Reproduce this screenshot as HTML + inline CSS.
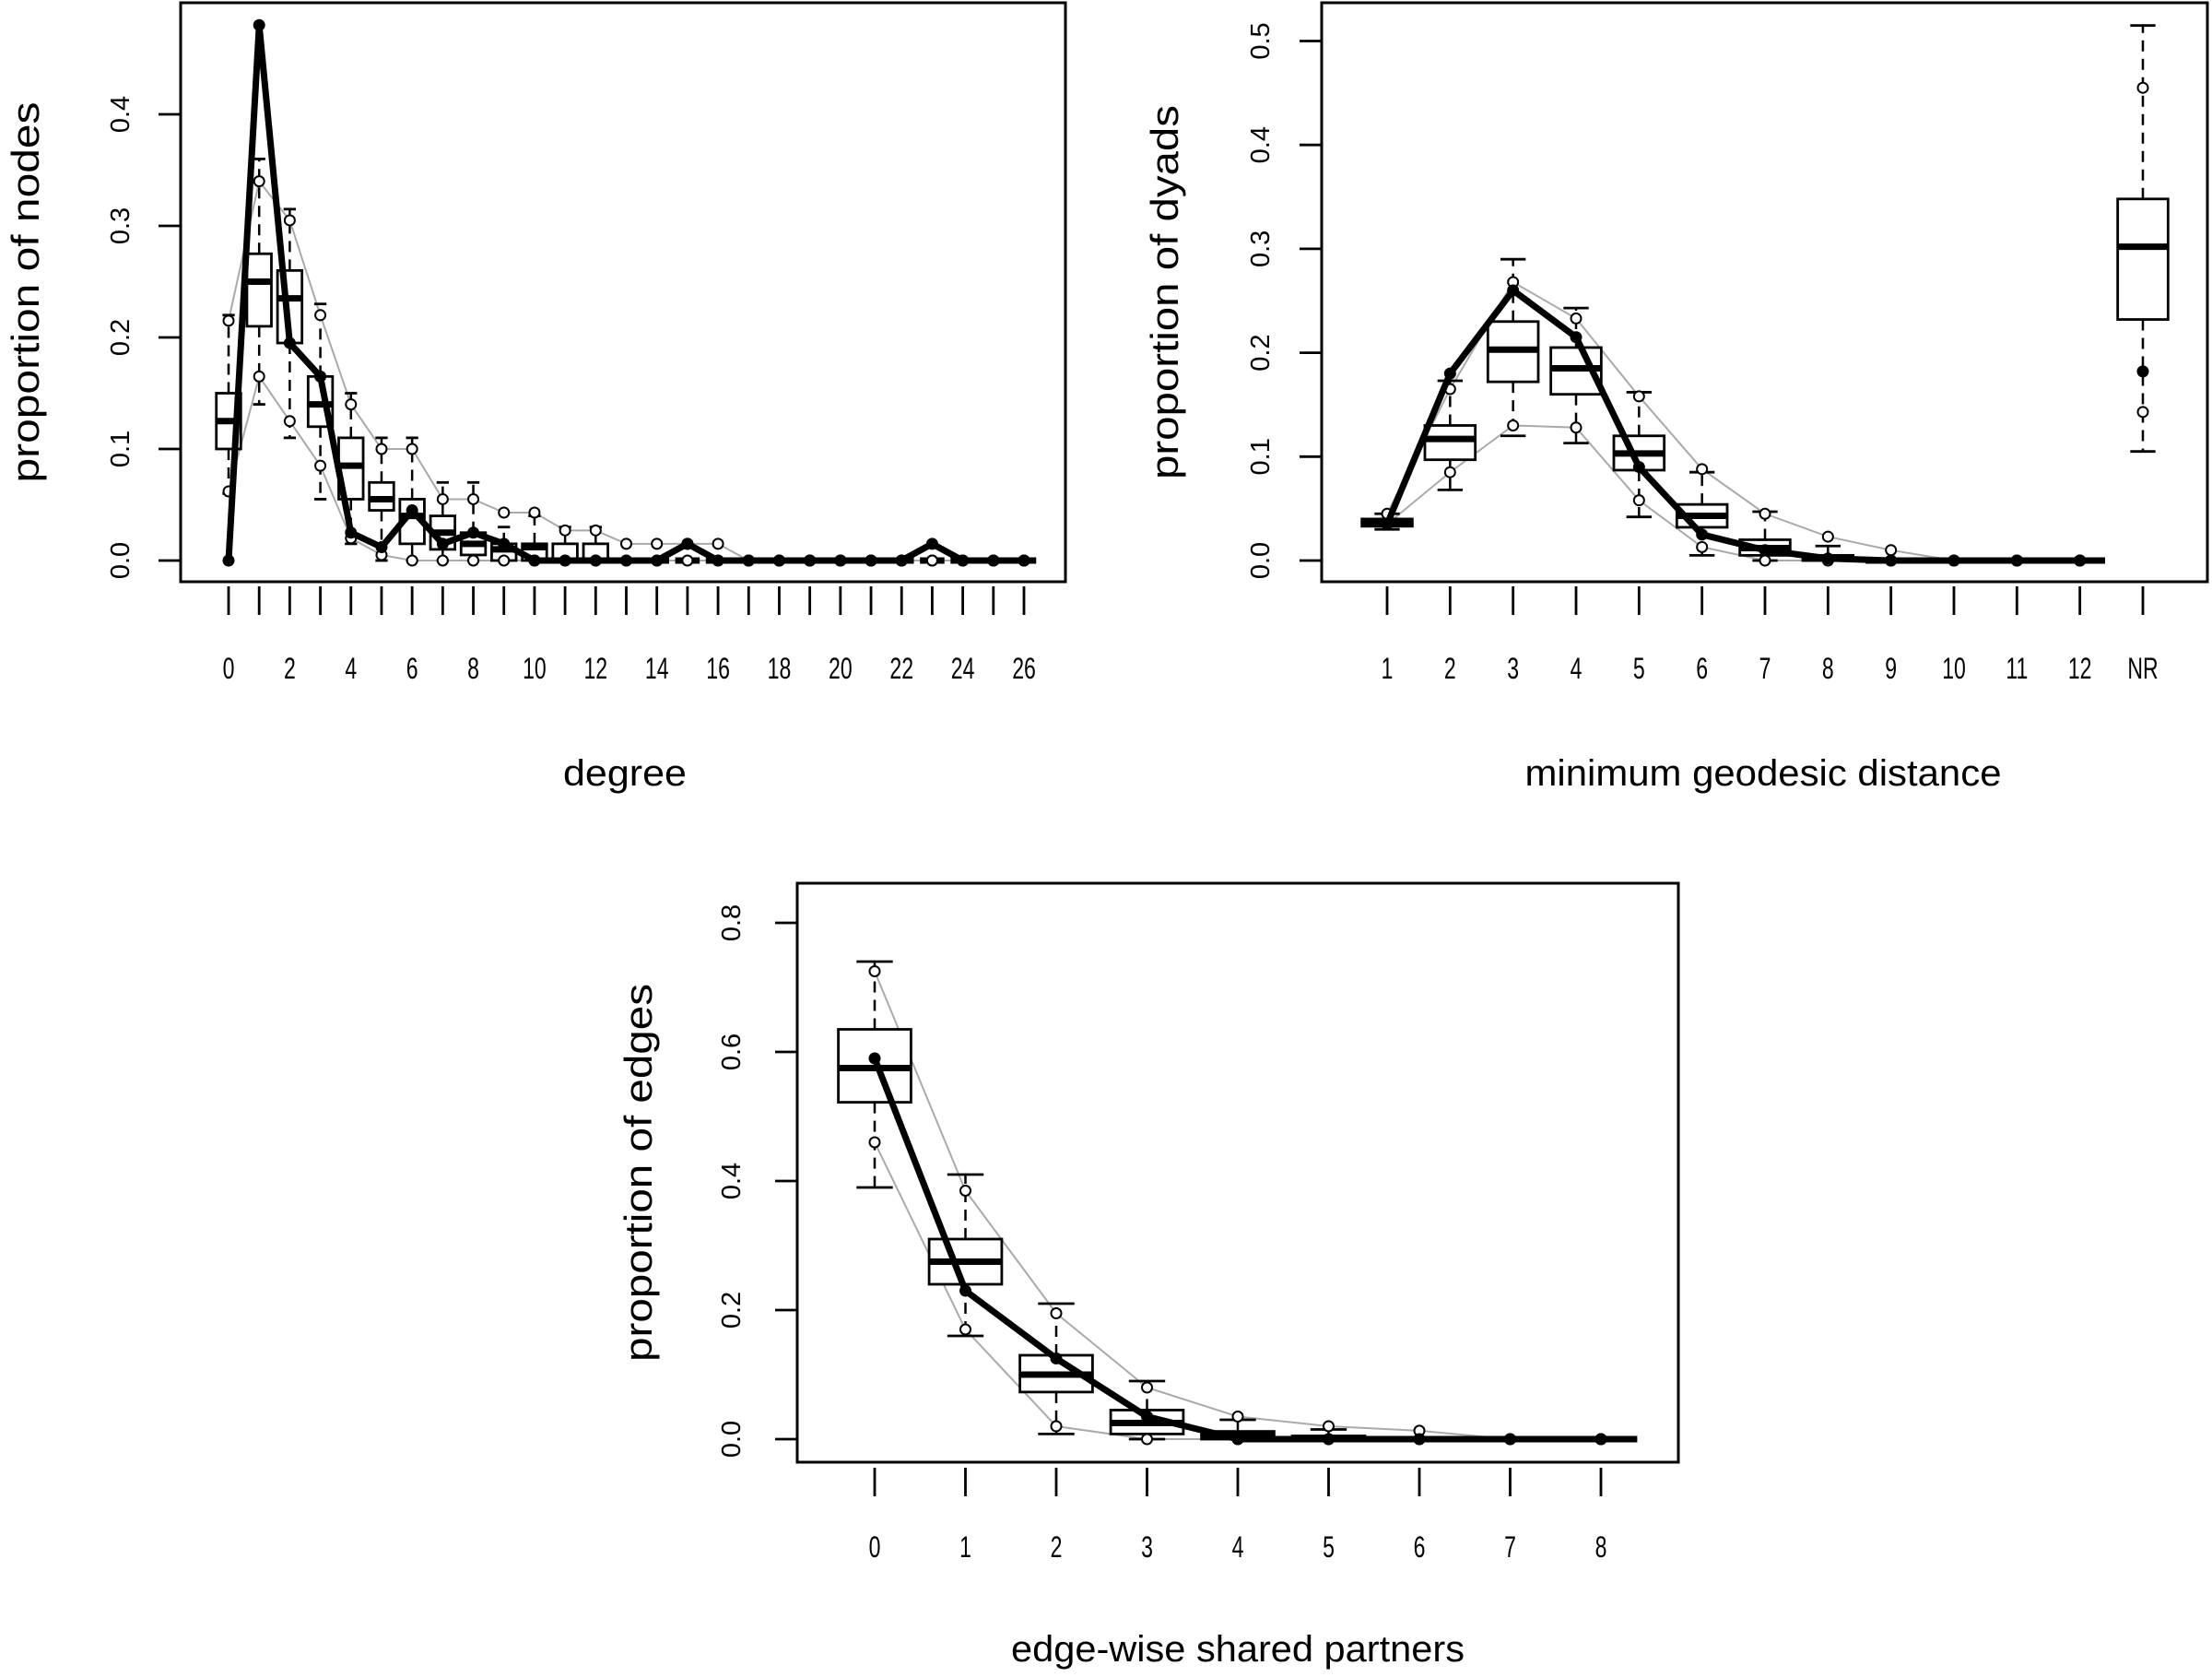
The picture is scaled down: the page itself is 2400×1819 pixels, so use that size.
<!DOCTYPE html>
<html><head><meta charset="utf-8"><style>
html,body{margin:0;padding:0;background:#fff}
svg{display:block}
text{font-family:"Liberation Sans",Arial,sans-serif;fill:#000}
</style></head><body>
<svg id="svg" width="2400" height="1819" viewBox="0 0 2400 1819" xmlns="http://www.w3.org/2000/svg"></svg>
<script>
// ---- Panel 1: degree ----
const degCats = [0,1,2,3,4,5,6,7,8,9,10,11,12,13,14,15,16,17,18,19,20,21,22,23,24,25,26];
const degQ1  = [0.10,0.21,0.195,0.12,0.055,0.045,0.015,0.01,0.005,0,0,0,0,0,0,0,0,0,0,0,0,0,0,0,0,0,0];
const degMed = [0.125,0.25,0.235,0.14,0.085,0.055,0.04,0.025,0.015,0.01,0.012,0,0,0,0,0,0,0,0,0,0,0,0,0,0,0,0];
const degQ3  = [0.15,0.275,0.26,0.165,0.11,0.07,0.055,0.04,0.025,0.015,0.015,0.015,0.015,0,0,0,0,0,0,0,0,0,0,0,0,0,0];
const degWlo = [0.06,0.14,0.11,0.055,0.015,0,0,0,0,0,0,0,0,0,0,0,0,0,0,0,0,0,0,0,0,0,0];
const degWhi = [0.22,0.36,0.315,0.23,0.15,0.11,0.11,0.07,0.07,0.03,0.04,0.03,0.03,0,0,0,0,0,0,0,0,0,0,0,0,0,0];
const degLo  = [0.062,0.165,0.125,0.085,0.02,0.005,0,0,0,0,0,0,0,0,0,0,0,0,0,0,0,0,0,0,0,0,0];
const degHi  = [0.215,0.34,0.305,0.22,0.14,0.10,0.10,0.055,0.055,0.043,0.043,0.027,0.027,0.015,0.015,0.015,0.015,0,0,0,0,0,0,0,0,0,0];
const degObs = [0,0.48,0.195,0.165,0.025,0.012,0.045,0.015,0.025,0.015,0,0,0,0,0,0.015,0,0,0,0,0,0,0,0.015,0,0,0];
const degXTicks = [0,2,4,6,8,10,12,14,16,18,20,22,24,26];
const degYTicks = [0.0,0.1,0.2,0.3,0.4];

// ---- Panel 2: geodesic distance ----
const geoCats = ["1","2","3","4","5","6","7","8","9","10","11","12","NR"];
const geoQ1  = [0.033,0.097,0.172,0.16,0.087,0.032,0.005,0,0,0,0,0,0.232];
const geoMed = [0.037,0.117,0.203,0.185,0.103,0.043,0.012,0.002,0,0,0,0,0.302];
const geoQ3  = [0.040,0.13,0.23,0.205,0.12,0.054,0.02,0.005,0,0,0,0,0.348];
const geoWlo = [0.03,0.068,0.12,0.113,0.042,0.005,0,0,0,0,0,0,0.105];
const geoWhi = [0.045,0.173,0.29,0.243,0.162,0.085,0.047,0.014,0,0,0,0,0.515];
const geoLo  = [0.035,0.085,0.13,0.128,0.058,0.013,0,0,0,0,0,0,0.143];
const geoHi  = [0.045,0.165,0.268,0.233,0.158,0.088,0.045,0.023,0.01,0,0,0,0.455];
const geoObs = [0.035,0.18,0.26,0.215,0.09,0.025,0.01,0.002,0,0,0,0,0.182];
const geoYTicks = [0.0,0.1,0.2,0.3,0.4,0.5];

// ---- Panel 3: edge-wise shared partners ----
const espCats = [0,1,2,3,4,5,6,7,8];
const espQ1  = [0.522,0.24,0.073,0.008,0,0,0,0,0];
const espMed = [0.575,0.275,0.10,0.025,0.005,0,0,0,0];
const espQ3  = [0.635,0.31,0.13,0.045,0.012,0.005,0,0,0];
const espWlo = [0.39,0.16,0.008,0,0,0,0,0,0];
const espWhi = [0.74,0.41,0.21,0.09,0.03,0.015,0,0,0];
const espLo  = [0.46,0.17,0.02,0,0,0,0,0,0];
const espHi  = [0.725,0.385,0.195,0.08,0.035,0.02,0.013,0,0];
const espObs = [0.59,0.23,0.125,0.035,0,0,0,0,0];
const espYTicks = [0.0,0.2,0.4,0.6,0.8];

const NS = "http://www.w3.org/2000/svg";
const svg = document.getElementById('svg');
function mk(tag, attrs, parent){
  const e = document.createElementNS(NS, tag);
  for (const k in attrs) e.setAttribute(k, attrs[k]);
  (parent||svg).appendChild(e);
  return e;
}

function panel(cfg){
  const g = mk('g', {});
  
  
  const xs = i => cfg.x0 + i*cfg.dx;
  const ys = v => cfg.y0 - v*cfg.dy;
  const fr = mk('rect', {x:cfg.bx, y:cfg.by, width:cfg.bw, height:cfg.bh, fill:'none', stroke:'#000', 'stroke-width':3}, g);
  
  
  const n = cfg.cats.length;
  const bw = 0.8*cfg.dx/2;
  const m = cfg.lineN || n;
  [cfg.lo, cfg.hi].forEach((arr, k) => {
    let pts = [];
    for (let i=0;i<m;i++) pts.push(xs(i)+','+ys(arr[i]));
    const pl = mk('polyline', {points:pts.join(' '), fill:'none', stroke:'#aaa', 'stroke-width':2}, g);
    
    
  });
  for (let i=0;i<n;i++){
    const bg = mk('g', {}, g);
    
    
    const cx = xs(i);
    mk('line', {x1:cx, x2:cx, y1:ys(cfg.q3[i]), y2:ys(cfg.whi[i]), stroke:'#000', 'stroke-width':2.5, 'stroke-dasharray':'12,8'}, bg);
    mk('line', {x1:cx, x2:cx, y1:ys(cfg.q1[i]), y2:ys(cfg.wlo[i]), stroke:'#000', 'stroke-width':2.5, 'stroke-dasharray':'12,8'}, bg);
    if (cfg.whi[i] > cfg.q3[i]) mk('line', {x1:cx-bw/2, x2:cx+bw/2, y1:ys(cfg.whi[i]), y2:ys(cfg.whi[i]), stroke:'#000', 'stroke-width':2.8}, bg);
    if (cfg.wlo[i] < cfg.q1[i]) mk('line', {x1:cx-bw/2, x2:cx+bw/2, y1:ys(cfg.wlo[i]), y2:ys(cfg.wlo[i]), stroke:'#000', 'stroke-width':2.8}, bg);
    if (cfg.q3[i] > cfg.q1[i]) mk('rect', {x:cx-bw, y:ys(cfg.q3[i]), width:2*bw, height:ys(cfg.q1[i])-ys(cfg.q3[i]), fill:'#fff', stroke:'#000', 'stroke-width':2.8}, bg);
    mk('line', {x1:cx-bw, x2:cx+bw, y1:ys(cfg.med[i]), y2:ys(cfg.med[i]), stroke:'#000', 'stroke-width':7}, bg);
  }
  for (let i=0;i<n;i++){
    [cfg.lo[i], cfg.hi[i]].forEach(v => {
      const c = mk('circle', {cx:xs(i), cy:ys(v), r:5.5, fill:'#fff', stroke:'#000', 'stroke-width':2}, g);
      
      
    });
  }
  let pts = [];
  for (let i=0;i<m;i++) pts.push(xs(i)+','+ys(cfg.obs[i]));
  const ol = mk('polyline', {points:pts.join(' '), fill:'none', stroke:'#000', 'stroke-width':7, 'stroke-linejoin':'round'}, g);
  
  
  for (let i=0;i<n;i++){
    const p = mk('circle', {cx:xs(i), cy:ys(cfg.obs[i]), r:6.5, fill:'#000'}, g);
    
    
  }
  const ax = mk('g', {}, g);
  
  
  for (let i=0;i<n;i++){
    mk('line', {x1:xs(i), x2:xs(i), y1:cfg.tickTop, y2:cfg.tickTop+31, stroke:'#000', 'stroke-width':2.8}, ax);
  }
  cfg.xLabels.forEach(([i, lab]) => {
    const t = mk('text', {x:0, y:0, 'font-size':32, 'text-anchor':'middle', transform:`translate(${xs(i)},${cfg.labY}) scale(0.72,1)`}, ax);
    t.textContent = lab;
  });
  const ay = mk('g', {}, g);
  
  
  cfg.yTicks.forEach(v => {
    mk('line', {x1:cfg.bx-24, x2:cfg.bx, y1:ys(v), y2:ys(v), stroke:'#000', 'stroke-width':2.8}, ay);
    const t = mk('text', {x:0, y:0, 'font-size':29, 'text-anchor':'middle', transform:`translate(${cfg.ylabX+10},${ys(v)}) rotate(-90)`}, ay);
    t.textContent = v.toFixed(1);
  });
  const xt = mk('text', {x:cfg.xtX, y:cfg.xtY, 'font-size':40, 'text-anchor':'middle', textLength:cfg.xtLen, lengthAdjust:'spacingAndGlyphs'}, g);
  
  
  xt.textContent = cfg.xTitle;
  const yt = mk('text', {x:0, y:0, 'font-size':42, 'text-anchor':'middle', textLength:cfg.ytLen, lengthAdjust:'spacingAndGlyphs', transform:`translate(${cfg.ytX+14},${cfg.ytY}) rotate(-90)`}, g);
  
  
  yt.textContent = cfg.yTitle;
}

panel({name:'degree-panel', cats:degCats, q1:degQ1, med:degMed, q3:degQ3, wlo:degWlo, whi:degWhi, lo:degLo, hi:degHi, obs:degObs,
  bx:196, by:3, bw:960, bh:628, x0:248, dx:(1111-248)/26, y0:608, dy:1210,
  tickTop:636, labY:736, xLabels:degXTicks.map(v=>[v,String(v)]), yTicks:degYTicks, ylabX:130,
  xTitle:'degree', xtX:678, xtY:852, xtLen:134, yTitle:'proportion of nodes', ytX:28, ytY:317, ytLen:413});

panel({name:'geodesic-distance-panel', cats:geoCats, q1:geoQ1, med:geoMed, q3:geoQ3, wlo:geoWlo, whi:geoWhi, lo:geoLo, hi:geoHi, obs:geoObs, lineN:12,
  bx:1434, by:3, bw:961, bh:628, x0:1505, dx:(2325-1505)/12, y0:608, dy:1127,
  tickTop:636, labY:736, xLabels:geoCats.map((c,i)=>[i,c]), yTicks:geoYTicks, ylabX:1367,
  xTitle:'minimum geodesic distance', xtX:1913, xtY:852, xtLen:517, yTitle:'proportion of dyads', ytX:1264, ytY:317, ytLen:406});

panel({name:'shared-partners-panel', cats:espCats, q1:espQ1, med:espMed, q3:espQ3, wlo:espWlo, whi:espWhi, lo:espLo, hi:espHi, obs:espObs,
  bx:865, by:958, bw:956, bh:628, x0:949, dx:(1737-949)/8, y0:1561, dy:700,
  tickTop:1592, labY:1689, xLabels:espCats.map(v=>[v,String(v)]), yTicks:espYTicks, ylabX:793,
  xTitle:'edge-wise shared partners', xtX:1343, xtY:1802, xtLen:492, yTitle:'proportion of edges', ytX:693, ytY:1272, ytLen:410});
</script>
</body></html>
